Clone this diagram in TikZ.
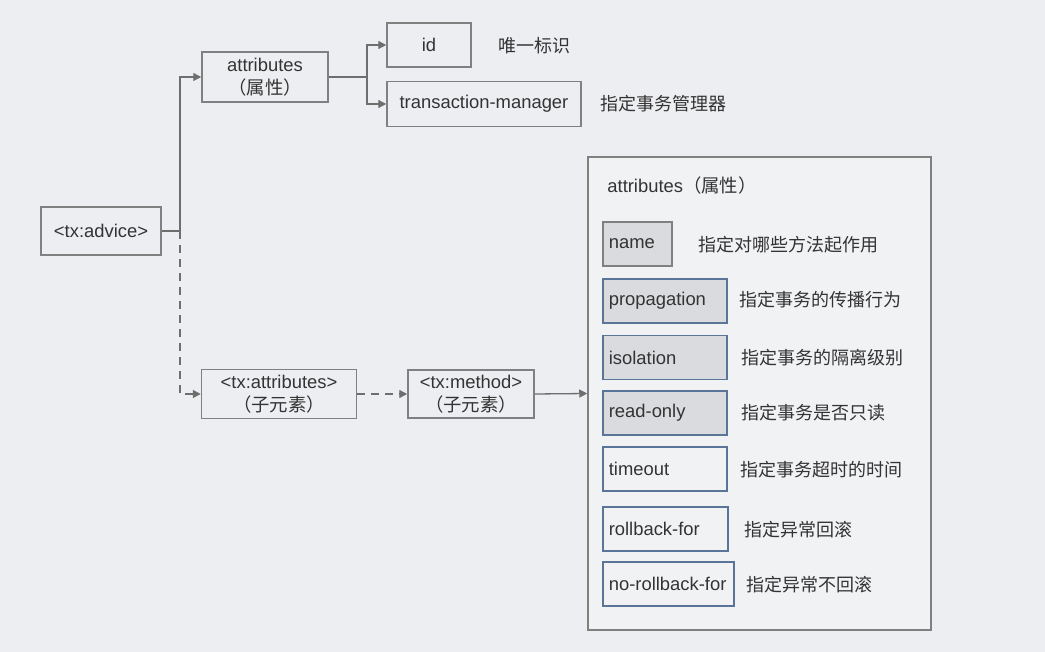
\documentclass[tikz,border=0pt]{standalone}
\usepackage{fontspec}
\setmainfont{Liberation Sans}
\newfontfamily\cjk{Noto Sans CJK SC}
\usetikzlibrary{arrows.meta}

\definecolor{bgcol}{HTML}{EDEEF1}
\definecolor{linecol}{HTML}{6E6E6E}
\definecolor{boxline}{HTML}{808080}
\definecolor{blueline}{HTML}{5B7598}
\definecolor{grayfill}{HTML}{DADBDE}
\definecolor{txtcol}{HTML}{333333}

\tikzset{
    elem/.style={draw=boxline, line width=0.75pt, fill=bgcol, align=center, text=txtcol, inner sep=1pt},
    attrbox/.style={draw=blueline, line width=0.8pt, anchor=west, minimum height=22pt,
        inner xsep=3pt, text width=#1, align=left, text=txtcol},
    desc/.style={anchor=west, inner sep=0pt, text=txtcol, font=\cjk\fontsize{9}{11}\selectfont},
    conn/.style={draw=linecol, line width=0.65pt},
    arr/.style={conn, -{Triangle[length=4pt,width=4pt]}},
    dasharr/.style={arr, dash pattern=on 4pt off 3pt}
}

\begin{document}
\begin{tikzpicture}[x=0.5pt, y=-0.5pt, font=\fontsize{9.2}{11.5}\selectfont]
    \fill[bgcol] (0,0) rectangle (1045,652);
    \useasboundingbox (0,0) rectangle (1045,652);

    % left part
    \node[elem, minimum width=60pt, minimum height=24pt] (advice) at (101,231) {<tx:advice>};
    \node[elem, minimum width=63pt, minimum height=25pt] (attr) at (265,77) {attributes\\{\cjk（属性）}};
    \node[elem, minimum width=42pt, minimum height=22pt] (id) at (429,45) {id};
    \node[elem, minimum width=97pt, minimum height=22.5pt] (tm) at (484,104) {transaction-manager};
    \node[desc] (d-id) at (498,46) {唯一标识};
    \node[desc] (d-tm) at (600,104) {指定事务管理器};
    \node[elem, minimum width=77.5pt, minimum height=24.5pt] (txattr) at (279,394) {<tx:attributes>\\{\cjk（子元素）}};
    \node[elem, minimum width=63pt, minimum height=24pt] (txmethod) at (471,394) {<tx:method>\\{\cjk（子元素）}};

    % right part
    \node[draw=boxline, line width=0.75pt, fill=white, fill opacity=0.25, minimum width=171.5pt, minimum height=236.5pt] (box) at (759.5,393.5) {};
    \node[anchor=west, inner sep=0pt, text=txtcol] (title) at (607,186) {attributes{\cjk（属性）}};

    \node[attrbox=28.5pt, draw=boxline, fill=grayfill] (name) at (602,244) {name};
    \node[attrbox=56pt, fill=grayfill] (prop) at (602,301) {propagation};
    \node[attrbox=56pt, fill=grayfill] (iso) at (602,357.5) {isolation};
    \node[attrbox=56pt, fill=grayfill] (ro) at (602,413) {read-only};
    \node[attrbox=56pt] (to) at (602,469) {timeout};
    \node[attrbox=56.5pt] (rb) at (602,529) {rollback-for};
    \node[attrbox=59.5pt] (nrb) at (602,584) {no-rollback-for};

    \node[desc] (d-name) at (698,245) {指定对哪些方法起作用};
    \node[desc] (d-prop) at (739,300) {指定事务的传播行为};
    \node[desc] (d-iso) at (741,358) {指定事务的隔离级别};
    \node[desc] (d-ro) at (741,413) {指定事务是否只读};
    \node[desc] (d-to) at (740,470) {指定事务超时的时间};
    \node[desc] (d-rb) at (744,530) {指定异常回滚};
    \node[desc] (d-nrb) at (746,585) {指定异常不回滚};

    % connectors
    \coordinate (split) at (180,231);
    \coordinate (fork) at (367,77);
    \draw[conn] (advice.east) -- (split);
    \draw[arr] (split) |- (attr.west);
    \draw[dasharr] (split) |- (txattr.west);
    \draw[conn] (attr.east) -- (fork);
    \draw[arr] (fork) |- (id.west);
    \draw[arr] (fork) |- (tm.west);
    \draw[dasharr] (txattr.east) -- (txmethod.west);
    \draw[arr] (txmethod.east) -- (box.west);
\end{tikzpicture}
\end{document}
